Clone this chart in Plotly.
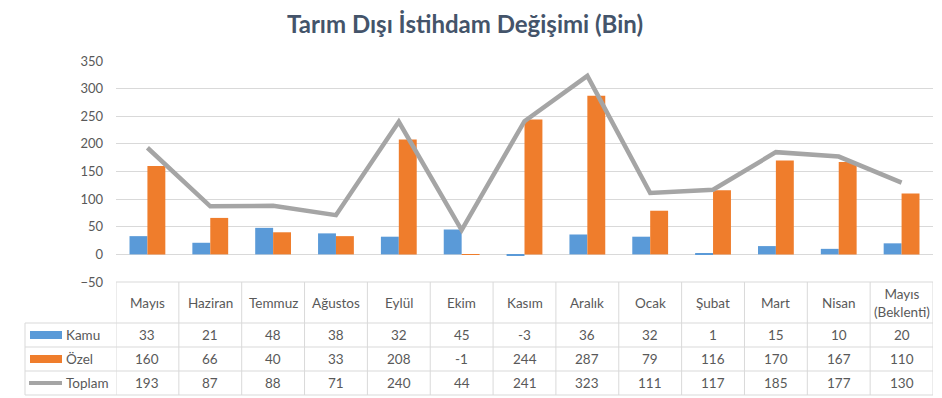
import plotly.graph_objects as go

# ---- data ----
months = ["Mayıs", "Haziran", "Temmuz", "Ağustos", "Eylül", "Ekim", "Kasım",
          "Aralık", "Ocak", "Şubat", "Mart", "Nisan", "Mayıs<br>(Beklenti)"]
kamu = [33, 21, 48, 38, 32, 45, -3, 36, 32, 1, 15, 10, 20]
ozel = [160, 66, 40, 33, 208, -1, 244, 287, 79, 116, 170, 167, 110]
toplam = [193, 87, 88, 71, 240, 44, 241, 323, 111, 117, 185, 177, 130]
series_names = ["Kamu", "Özel", "Toplam"]
title_text = "Tarım Dışı İstihdam Değişimi (Bin)"

# ---- style ----
W, H = 942, 398
ML, MR, MT, MB = 116, 9, 61, 116
PW = W - ML - MR
PH = H - MT - MB
BLUE = "#5A9AD8"
ORANGE = "#EF7D2C"
GREY = "#A5A5A5"
GRID = "#D9D9D9"
TXT = "#595959"
FONT = "Lato, 'Open Sans', sans-serif"
TFS = 13.5

idx = list(range(len(months)))


def py(pix):
    """pixel y (from top of figure) -> paper y"""
    return (H - MB - pix) / PH


def px(pix):
    """pixel x (from left of figure) -> paper x"""
    return (pix - ML) / PW


fig = go.Figure()
fig.add_trace(go.Bar(x=idx, y=kamu, name=series_names[0], marker_color=BLUE,
                     marker_line_width=0))
fig.add_trace(go.Bar(x=idx, y=ozel, name=series_names[1], marker_color=ORANGE,
                     marker_line_width=0))
fig.add_trace(go.Scatter(x=idx, y=toplam, name=series_names[2], mode="lines",
                         line=dict(color=GREY, width=4.5)))

shapes = []
# table horizontal lines
row_lines = [323, 347, 371, 395]
shapes.append(dict(type="line", xref="paper", yref="paper", x0=0, x1=1,
                   y0=py(282), y1=py(282), line=dict(color=GRID, width=1)))
for r in row_lines:
    shapes.append(dict(type="line", xref="paper", yref="paper", x0=px(25), x1=1,
                       y0=py(r), y1=py(r), line=dict(color=GRID, width=1)))
# table vertical lines
for i in range(len(months) + 1):
    shapes.append(dict(type="line", xref="x", yref="paper", x0=i - 0.5, x1=i - 0.5,
                       y0=py(282), y1=py(395), line=dict(color=GRID, width=1)))
shapes.append(dict(type="line", xref="paper", yref="paper", x0=px(25), x1=px(25),
                   y0=py(323), y1=py(395), line=dict(color=GRID, width=1)))

# legend keys in the table
row_centers = [335, 359, 383]
shapes.append(dict(type="rect", xref="paper", yref="paper", x0=px(30), x1=px(62),
                   y0=py(row_centers[0] + 4), y1=py(row_centers[0] - 4),
                   fillcolor=BLUE, line=dict(width=0)))
shapes.append(dict(type="rect", xref="paper", yref="paper", x0=px(30), x1=px(62),
                   y0=py(row_centers[1] + 4), y1=py(row_centers[1] - 4),
                   fillcolor=ORANGE, line=dict(width=0)))
shapes.append(dict(type="line", xref="paper", yref="paper", x0=px(29), x1=px(62),
                   y0=py(row_centers[2]), y1=py(row_centers[2]),
                   line=dict(color=GREY, width=4)))

annotations = []
for i, m in enumerate(months):
    annotations.append(dict(x=i, y=py(302.5), xref="x", yref="paper", text=m,
                            showarrow=False, xanchor="center", yanchor="middle",
                            font=dict(family=FONT, size=TFS, color=TXT)))
for r, vals in enumerate([kamu, ozel, toplam]):
    for i, v in enumerate(vals):
        annotations.append(dict(x=i, y=py(row_centers[r]), xref="x", yref="paper",
                                text=str(v), showarrow=False,
                                xanchor="center", yanchor="middle",
                                font=dict(family=FONT, size=TFS, color=TXT)))
    annotations.append(dict(x=px(64), y=py(row_centers[r]), xref="paper", yref="paper",
                            text=series_names[r], showarrow=False,
                            xanchor="left", yanchor="middle",
                            font=dict(family=FONT, size=TFS, color=TXT)))

fig.update_layout(
    width=W, height=H,
    margin=dict(l=ML, r=MR, t=MT, b=MB),
    paper_bgcolor="white", plot_bgcolor="white",
    barmode="group", bargap=0.43, bargroupgap=0,
    showlegend=False,
    title=dict(text="<b>" + title_text + "</b>", x=465 / W, xanchor="center",
               y=1 - 25 / H, yanchor="middle",
               font=dict(family=FONT, size=24, color="#44546A")),
    xaxis=dict(range=[-0.5, len(months) - 0.5], showticklabels=False,
               showgrid=False, zeroline=False, showline=False),
    yaxis=dict(range=[-50, 350], dtick=50, gridcolor=GRID, gridwidth=1,
               zeroline=True, zerolinecolor=GRID, zerolinewidth=1,
               showline=False, ticklabelstandoff=12,
               tickfont=dict(family=FONT, size=13, color=TXT)),
    shapes=shapes,
    annotations=annotations,
)

fig.write_html("out.html", config={"displayModeBar": False},
               post_script="document.body.style.margin='0';")
